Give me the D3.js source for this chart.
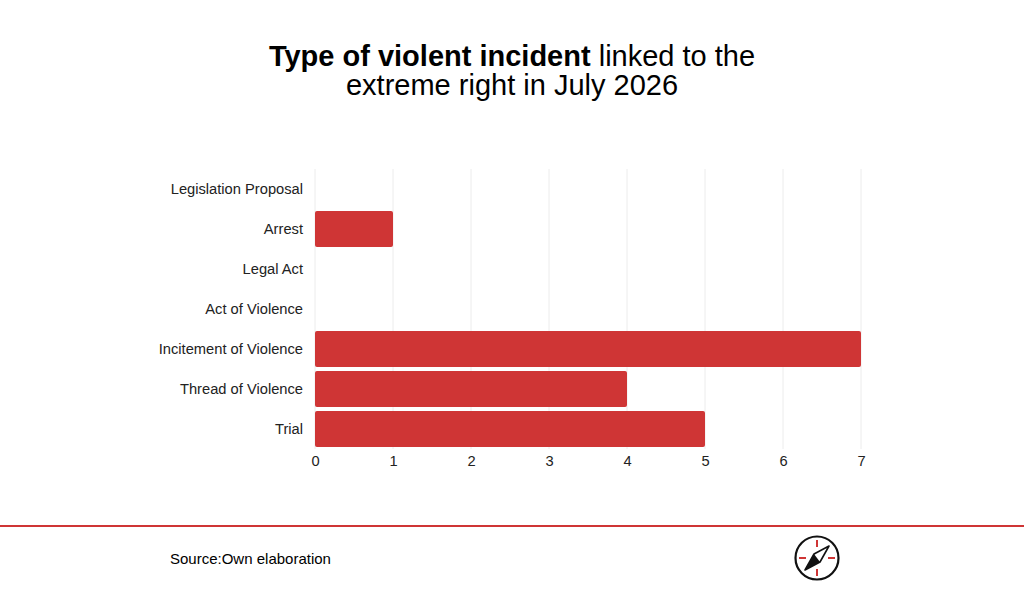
<!DOCTYPE html>
<html>
<head>
<meta charset="utf-8">
<script src="https://cdn.jsdelivr.net/npm/d3@7/dist/d3.min.js"></script>
<style>
  html, body { margin: 0; padding: 0; background: #fff; }
  svg { display: block; font-family: "Liberation Sans", Arial, sans-serif; }
</style>
</head>
<body>
<svg id="chart" width="1024" height="594"></svg>
<script>
const categories = ['Legislation Proposal', 'Arrest', 'Legal Act', 'Act of Violence',
  'Incitement of Violence', 'Thread of Violence', 'Trial']
const counts = [0, 1, 0, 0, 7, 4, 5]
const xTicks = [0, 1, 2, 3, 4, 5, 6, 7]

const RED = '#cf3535'

const svg = d3.select('#chart')
const margin = { left: 315, right: 163, top: 169, bottom: 145 }
const width = 1024
const height = 594

const x = d3.scaleLinear().domain([0, 7]).range([margin.left, width - margin.right])
const y = d3.scaleBand().domain(categories)
  .range([margin.top, height - margin.bottom])
  .paddingInner(0.1).paddingOuter(0.05)

// title
const title = svg.append('text')
  .attr('x', width / 2)
  .attr('y', 66)
  .attr('text-anchor', 'middle')
  .attr('font-size', 29)
  .attr('fill', '#000')
title.append('tspan').attr('font-weight', 'bold').text('Type of violent incident')
title.append('tspan').text(' linked to the')
svg.append('text')
  .attr('x', width / 2)
  .attr('y', 95)
  .attr('text-anchor', 'middle')
  .attr('font-size', 29)
  .attr('fill', '#000')
  .text('extreme right in July 2026')

// grid
svg.append('g')
  .selectAll('line')
  .data(xTicks)
  .join('line')
  .attr('x1', (d) => x(d))
  .attr('x2', (d) => x(d))
  .attr('y1', margin.top)
  .attr('y2', height - margin.bottom)
  .attr('stroke', '#ececec')
  .attr('stroke-width', 1)

// bars
svg.append('g')
  .selectAll('rect')
  .data(categories.map((c, i) => ({ cat: c, v: counts[i] })).filter((d) => d.v > 0))
  .join('rect')
  .attr('x', x(0))
  .attr('y', (d) => y(d.cat))
  .attr('width', (d) => x(d.v) - x(0))
  .attr('height', y.bandwidth())
  .attr('rx', 2)
  .attr('fill', RED)

// category labels
svg.append('g')
  .selectAll('text')
  .data(categories)
  .join('text')
  .attr('x', margin.left - 12)
  .attr('y', (d) => y(d) + y.bandwidth() / 2)
  .attr('dy', '0.35em')
  .attr('text-anchor', 'end')
  .attr('font-size', 14.7)
  .attr('fill', '#222')
  .text((d) => d)

// x axis labels
const xAxis = d3.axisBottom(x).tickValues(xTicks).tickFormat(d3.format('d')).tickSize(0).tickPadding(7)
const gx = svg.append('g')
  .attr('transform', `translate(0,${height - margin.bottom})`)
  .call(xAxis)
gx.select('.domain').remove()
gx.selectAll('text')
  .attr('font-size', 14.7)
  .attr('font-family', '"Liberation Sans", Arial, sans-serif')
  .attr('fill', '#222')

// footer line
svg.append('line')
  .attr('x1', 0).attr('x2', width)
  .attr('y1', 526).attr('y2', 526)
  .attr('stroke', RED)
  .attr('stroke-width', 2)

svg.append('text')
  .attr('x', 170)
  .attr('y', 564)
  .attr('font-size', 15)
  .attr('fill', '#000')
  .text('Source:Own elaboration')

// compass logo
const logo = svg.append('g').attr('transform', 'translate(817,558)')
logo.append('circle').attr('r', 21.5).attr('fill', '#fff').attr('stroke', '#111').attr('stroke-width', 2.2)
const ticks = [[0, -18, 0, -11], [0, 11, 0, 18], [-18, 0, -11, 0], [11, 0, 18, 0]]
logo.selectAll('line.tk')
  .data(ticks)
  .join('line')
  .attr('class', 'tk')
  .attr('x1', (d) => d[0]).attr('y1', (d) => d[1])
  .attr('x2', (d) => d[2]).attr('y2', (d) => d[3])
  .attr('stroke', RED)
  .attr('stroke-width', 2)
logo.append('path')
  .attr('d', 'M12,-12 L3,4 L-12,12 L-3,-4 Z')
  .attr('fill', '#fff')
  .attr('stroke', '#111')
  .attr('stroke-width', 1.6)
  .attr('stroke-linejoin', 'round')
logo.append('path')
  .attr('d', 'M-12,12 L-3,-4 L3,4 Z')
  .attr('fill', '#111')
</script>
</body>
</html>
